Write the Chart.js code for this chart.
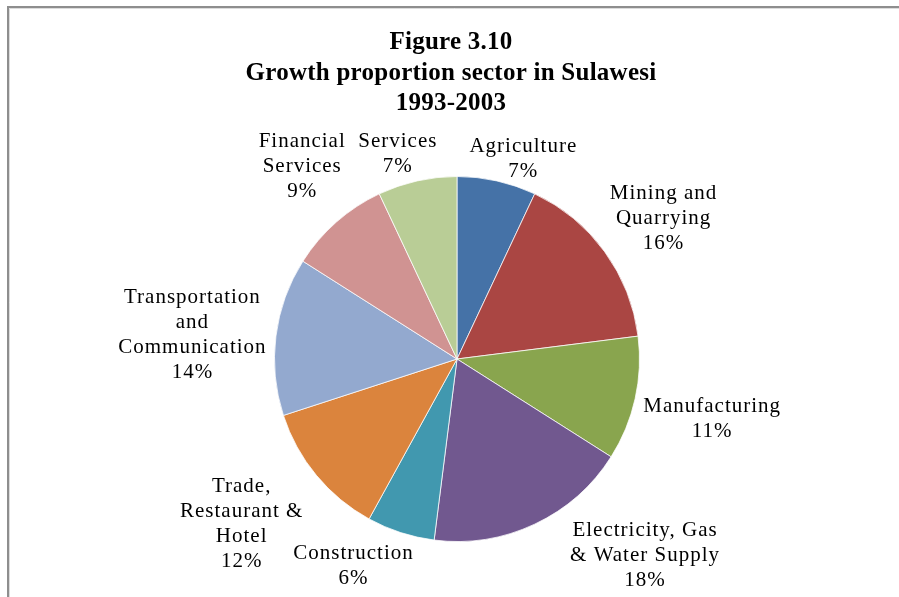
<!DOCTYPE html>
<html>
<head>
<meta charset="utf-8">
<script src="https://cdn.jsdelivr.net/npm/chart.js@4"></script>
<style>
  html, body { margin: 0; padding: 0; background: #fff; }
  #wrap { width: 899px; height: 597px; }
</style>
</head>
<body>
<div id="wrap"><canvas id="graficoSetores" width="899" height="597"></canvas></div>
<script>
const setores = [
  'Agriculture', 'Mining and Quarrying', 'Manufacturing',
  'Electricity, Gas & Water Supply', 'Construction', 'Trade, Restaurant & Hotel',
  'Transportation and Communication', 'Financial Services', 'Services'
];
const percentuais = [7, 16, 11, 18, 6, 12, 14, 9, 7];

// how each sector name is broken into lines next to the pie
const rotulos = [
  ['Agriculture'],
  ['Mining and', 'Quarrying'],
  ['Manufacturing'],
  ['Electricity, Gas', '& Water Supply'],
  ['Construction'],
  ['Trade,', 'Restaurant &', 'Hotel'],
  ['Transportation', 'and', 'Communication'],
  ['Financial', 'Services'],
  ['Services']
];

const tituloLinhas = ['Figure 3.10', 'Growth proportion sector in Sulawesi', '1993-2003'];

const cores = ['#4572A7', '#AA4643', '#89A54E', '#71588F', '#4198AF', '#DB843D', '#93A9CF', '#D09392', '#B9CD96'];

// small nudges (px) so the outside labels sit where the layout wants them
const ajusteRotulos = [[13, 10], [9, -7], [2, 13], [75, -10], [-26, 2], [-21, 12], [-2, 6], [0, -21], [-9, 5]];

const FONTE = '"Liberation Serif", "Times New Roman", serif';

const moldura = {
  id: 'moldura',
  beforeDraw(chart) {
    const ctx = chart.ctx;
    ctx.save();
    ctx.fillStyle = '#fff';
    ctx.fillRect(0, 0, chart.width, chart.height);
    ctx.restore();
  },
  afterDraw(chart) {
    const ctx = chart.ctx;
    ctx.save();
    ctx.strokeStyle = '#8e8e8e';
    ctx.lineWidth = 2;
    ctx.beginPath();
    ctx.moveTo(8, chart.height);
    ctx.lineTo(8, 7);
    ctx.lineTo(chart.width, 7);
    ctx.stroke();
    ctx.strokeStyle = '#dcdcdc';
    ctx.lineWidth = 1;
    ctx.beginPath();
    ctx.moveTo(9.5, chart.height);
    ctx.lineTo(9.5, 8.5);
    ctx.lineTo(chart.width, 8.5);
    ctx.stroke();

    // title
    ctx.fillStyle = '#000';
    ctx.font = 'bold 25px ' + FONTE;
    ctx.letterSpacing = '0.25px';
    ctx.textAlign = 'center';
    ctx.textBaseline = 'alphabetic';
    const bases = [49, 80, 110];
    tituloLinhas.forEach((t, i) => ctx.fillText(t, 451, bases[i]));
    ctx.restore();
  }
};

const rotulosExternos = {
  id: 'rotulosExternos',
  afterDatasetsDraw(chart) {
    const ctx = chart.ctx;
    const arcs = chart.getDatasetMeta(0).data;
    const lh = 25;
    ctx.save();
    ctx.font = '21px ' + FONTE;
    ctx.letterSpacing = '1px';
    ctx.fillStyle = '#000';
    ctx.textAlign = 'center';
    ctx.textBaseline = 'middle';
    arcs.forEach((arc, i) => {
      const { x, y, startAngle, endAngle, outerRadius } =
        arc.getProps(['x', 'y', 'startAngle', 'endAngle', 'outerRadius'], true);
      const meio = (startAngle + endAngle) / 2;
      const linhas = [...rotulos[i], percentuais[i] + '%'];
      const w = Math.max(...linhas.map(l => ctx.measureText(l).width));
      const h = linhas.length * lh;
      const cos = Math.cos(meio), sin = Math.sin(meio);
      const cx = x + (outerRadius + 8) * cos + (w / 2) * cos + ajusteRotulos[i][0];
      const cy = y + (outerRadius + 8) * sin + (h / 2) * sin + ajusteRotulos[i][1];
      linhas.forEach((l, k) => ctx.fillText(l, cx, cy - h / 2 + lh * (k + 0.5)));
    });
    ctx.restore();
  }
};

new Chart(document.getElementById('graficoSetores'), {
  type: 'pie',
  data: {
    labels: setores,
    datasets: [{
      data: percentuais,
      backgroundColor: cores,
      borderColor: 'rgba(255,255,255,0.75)',
      borderWidth: 1
    }]
  },
  options: {
    responsive: false,
    animation: false,
    layout: { padding: { left: 274, right: 259, top: 176, bottom: 55 } },
    plugins: {
      legend: { display: false },
      tooltip: { enabled: false }
    }
  },
  plugins: [moldura, rotulosExternos]
});
</script>
</body>
</html>
